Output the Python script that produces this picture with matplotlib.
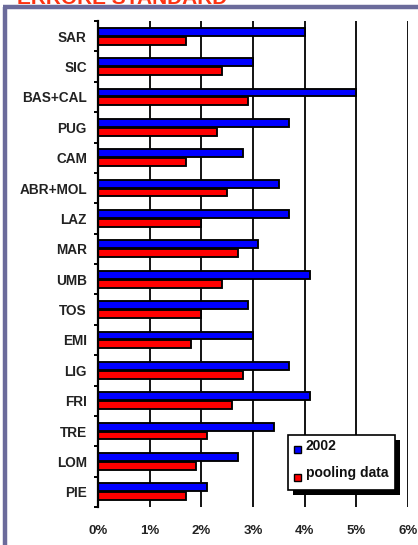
import matplotlib
matplotlib.use("Agg")
import matplotlib.pyplot as plt
from matplotlib.patches import Rectangle
from matplotlib.lines import Line2D
from matplotlib.ticker import FixedLocator, PercentFormatter
import numpy as np

plt.rcParams['font.family'] = ['Liberation Sans', 'DejaVu Sans']

regions = ["SAR", "SIC", "BAS+CAL", "PUG", "CAM", "ABR+MOL", "LAZ", "MAR",
           "UMB", "TOS", "EMI", "LIG", "FRI", "TRE", "LOM", "PIE"]
se_2002 = [4.0, 3.0, 5.0, 3.7, 2.8, 3.5, 3.7, 3.1,
           4.1, 2.9, 3.0, 3.7, 4.1, 3.4, 2.7, 2.1]
se_pooled = [1.7, 2.4, 2.9, 2.3, 1.7, 2.5, 2.0, 2.7,
             2.4, 2.0, 1.8, 2.8, 2.6, 2.1, 1.9, 1.7]
series_labels = ["2002", "pooling data"]
x_ticks = [0, 1, 2, 3, 4, 5, 6]
title = "ERRORE STANDARD"

W, H = 418, 545
fig = plt.figure(figsize=(W / 100, H / 100), dpi=100)
fig.patch.set_facecolor("white")

# outer slide frame (only top and left edges fall inside the image)
frame_col = "#6b6b9b"
fig.add_artist(Line2D([4.7 / W, 4.7 / W], [0, 1 - 6.8 / H], transform=fig.transFigure,
                      color=frame_col, lw=3.2, solid_capstyle="butt"))
fig.add_artist(Line2D([2.6 / W, 1], [1 - 6.8 / H, 1 - 6.8 / H], transform=fig.transFigure,
                      color=frame_col, lw=3.2, solid_capstyle="butt"))

# heading, mostly cut off at the top edge
fig.text(17 / W, 1 - 4.0 / H, title, color="#ff3311", fontsize=15, fontweight="bold",
         ha="left", va="baseline")

ax = fig.add_axes([98 / W, 1 - 507 / H, 310 / W, 486 / H])
y = np.arange(len(regions))
h = 0.26
off = 0.145
ax.barh(y - off, se_2002, height=h, color="#0000ff", edgecolor="black", linewidth=1.35, zorder=3)
ax.barh(y + off, se_pooled, height=h, color="#ff0000", edgecolor="black", linewidth=1.35, zorder=3)

ax.set_xlim(0, 6)
ax.set_ylim(len(regions) - 0.5, -0.5)

for s in ["top", "right", "bottom"]:
    ax.spines[s].set_visible(False)
ax.spines["left"].set_linewidth(1.6)
ax.spines["left"].set_zorder(4)

for v in x_ticks[1:]:
    ax.axvline(v, color="black", lw=1.3, zorder=1)

ax.xaxis.set_major_locator(FixedLocator(x_ticks))
ax.xaxis.set_major_formatter(PercentFormatter(decimals=0))
ax.tick_params(axis="x", length=0, pad=13, labelsize=9.5, labelcolor="#222222")
for t in ax.get_xticklabels():
    t.set_fontweight("bold")

ax.set_yticks(y)
ax.set_yticklabels(regions, fontsize=9.8, fontweight="bold", color="#222222")
ax.tick_params(axis="y", which="major", length=0, pad=8)
ax.yaxis.set_minor_locator(FixedLocator(np.arange(-0.5, len(regions) + 0.5, 1.0)))
ax.tick_params(axis="y", which="minor", length=3.2, width=1.4, direction="out")

# legend box with a solid drop shadow
axw, axh = 310.0, 486.0
def ax_x(px):
    return (px - 98) / axw
def ax_y(py):
    return (507 - py) / axh

bx0, bx1, by0, by1 = 287.5, 394.5, 435, 490
ax.add_patch(Rectangle((ax_x(bx0 + 5), ax_y(by1 + 5)), (bx1 - bx0) / axw, (by1 - by0) / axh,
                       transform=ax.transAxes, facecolor="black", edgecolor="black",
                       lw=0, zorder=5, clip_on=False))
ax.add_patch(Rectangle((ax_x(bx0), ax_y(by1)), (bx1 - bx0) / axw, (by1 - by0) / axh,
                       transform=ax.transAxes, facecolor="white", edgecolor="black",
                       lw=1.2, zorder=6, clip_on=False))
for lab, col, my, ty in [(series_labels[0], "#0000ff", 449.5, 446.5),
                         (series_labels[1], "#ff0000", 477, 473.5)]:
    ax.add_patch(Rectangle((ax_x(294), ax_y(my + 3.5)), 7 / axw, 7 / axh,
                           transform=ax.transAxes, facecolor=col, edgecolor="black",
                           lw=1.0, zorder=7, clip_on=False))
    ax.text(ax_x(306), ax_y(ty), lab, transform=ax.transAxes, fontsize=10,
            fontweight="bold", color="#111111", ha="left", va="center", zorder=8)

fig.savefig("out.png", dpi=100, facecolor="white")
